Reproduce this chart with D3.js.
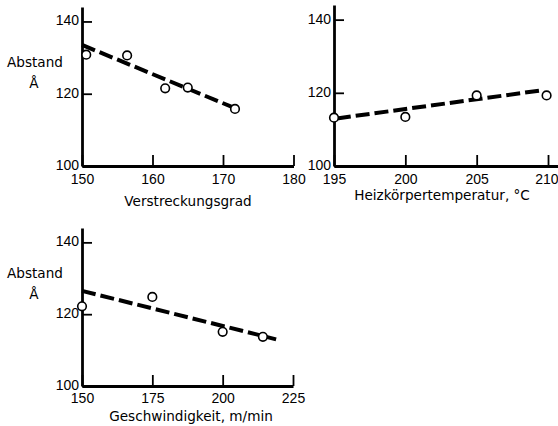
<!DOCTYPE html>
<html><head><meta charset="utf-8">
<script src="https://cdn.jsdelivr.net/npm/d3@7"></script>
<style>
body{margin:0;background:#fff;}
svg{display:block;}
</style></head>
<body>
<script>
// ---- data ----
const yTicks = [100, 120, 140];

const xTicks1 = [150, 160, 170, 180];
const ptsX1 = [150.6, 156.4, 161.8, 165.0, 171.7];
const ptsY1 = [130.8, 130.6, 121.5, 121.7, 115.8];
const fitX1 = [150.0, 171.7];
const fitY1 = [133.5, 116.0];

const xTicks2 = [195, 200, 205, 210];
const ptsX2 = [195.0, 200.0, 205.0, 209.9];
const ptsY2 = [113.2, 113.4, 119.3, 119.3];
const fitX2 = [195.2, 209.4];
const fitY2 = [113.0, 120.6];

const xTicks3 = [150, 175, 200, 225];
const ptsX3 = [150.0, 175.0, 200.0, 214.3];
const ptsY3 = [122.2, 124.8, 115.1, 113.7];
const fitX3 = [150.0, 219.0];
const fitY3 = [126.5, 113.0];

const yLabel = "Abstand";
const yUnit = "Å";
const xTitles = ["Verstreckungsgrad", "Heizkörpertemperatur, °C", "Geschwindigkeit, m/min"];

// ---- drawing ----
const W = 558, H = 426;
const svg = d3.select("body").append("svg").attr("width", W).attr("height", H);

const panels = [
  {xT: xTicks1, px: ptsX1, py: ptsY1, fx: fitX1, fy: fitY1, xd: [150, 180], xr: [82, 293.5], yr: [166, 7], title: xTitles[0], tx: 188, ty: 206, ylab: true, labY: 67, pad: 8},
  {xT: xTicks2, px: ptsX2, py: ptsY2, fx: fitX2, fy: fitY2, xd: [195, 210.7], xr: [334, 558], yr: [166, 5], title: xTitles[1], tx: 442, ty: 200, ylab: false, pad: 8},
  {xT: xTicks3, px: ptsX3, py: ptsY3, fx: fitX3, fy: fitY3, xd: [150, 225], xr: [82, 293], yr: [386, 228], title: xTitles[2], tx: 191, ty: 421, ylab: true, labY: 278, pad: 7}
];

const tickFont = "'Liberation Sans', Arial, sans-serif";
const titleFont = "'DejaVu Sans', sans-serif";

panels.forEach(p => {
  const x = d3.scaleLinear().domain(p.xd).range(p.xr);
  const y = d3.scaleLinear().domain([100, 144]).range(p.yr);
  const g = svg.append("g");

  const xAxis = d3.axisBottom(x).tickValues(p.xT).tickSizeInner(-11).tickSizeOuter(0).tickPadding(p.pad).tickFormat(d3.format("d"));
  const gx = g.append("g").attr("transform", `translate(0,${p.yr[0]})`).call(xAxis);
  const yAxis = d3.axisLeft(y).tickValues(yTicks).tickSizeInner(-10).tickSizeOuter(0).tickPadding(3).tickFormat(d3.format("d"));
  const gy = g.append("g").attr("transform", `translate(${p.xr[0]},0)`).call(yAxis);

  [gx, gy].forEach(a => {
    a.attr("font-size", null).attr("font-family", null);
    a.select(".domain").attr("stroke", "#000").attr("stroke-width", 2.8);
    a.selectAll(".tick line").attr("stroke", "#000").attr("stroke-width", 1.8);
    a.selectAll(".tick text").attr("fill", "#000").style("font-family", tickFont).style("font-size", "14px");
  });
  gy.selectAll(".tick text").attr("dy", "0.25em");
  // keep the rightmost tick label inside the window
  gx.selectAll(".tick text").filter(d => x(d) + 12 > W).attr("text-anchor", "end").attr("x", W - x(p.xT[p.xT.length - 1]));

  // fitted dashed line
  const line = d3.line().x(d => x(d[0])).y(d => y(d[1]));
  g.append("path")
    .datum(p.fx.map((v, i) => [v, p.fy[i]]))
    .attr("d", line)
    .attr("fill", "none").attr("stroke", "#000").attr("stroke-width", 4)
    .attr("stroke-dasharray", "14,5");

  // points
  g.selectAll("circle.pt").data(p.px.map((v, i) => [v, p.py[i]])).enter()
    .append("circle").attr("class", "pt")
    .attr("cx", d => x(d[0])).attr("cy", d => y(d[1])).attr("r", 4.3)
    .attr("fill", "#fff").attr("stroke", "#000").attr("stroke-width", 1.6);

  // x title
  g.append("text").attr("x", p.tx).attr("y", p.ty).attr("text-anchor", "middle")
    .style("font-family", titleFont).style("font-size", "13.6px").text(p.title);

  if (p.ylab) {
    g.append("text").attr("x", 35).attr("y", p.labY).attr("text-anchor", "middle")
      .style("font-family", titleFont).style("font-size", "13.6px").text(yLabel);
    g.append("text").attr("x", 34).attr("y", p.labY + 21).attr("text-anchor", "middle")
      .style("font-family", titleFont).style("font-size", "13.6px").text(yUnit);
  }
});
</script>
</body></html>
